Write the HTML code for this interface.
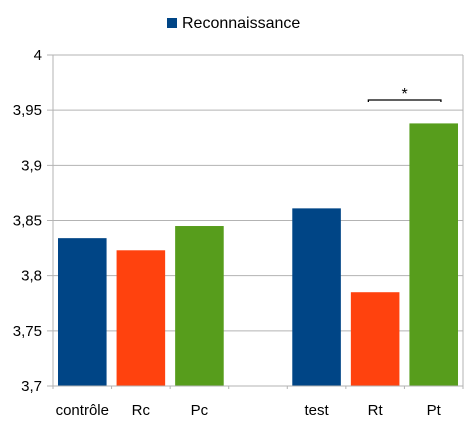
<!DOCTYPE html>
<html><head><meta charset="utf-8"><style>body{margin:0;background:#fff}svg{display:block;font-family:"Liberation Sans",sans-serif}</style></head>
<body>
<svg id="c" width="473" height="425"></svg>
<script>
const categories=["contrôle","Rc","Pc","","test","Rt","Pt"];
const values=[3.834,3.823,3.845,null,3.861,3.785,3.938];
const colors=["#004586","#ff420e","#579d1c",null,"#004586","#ff420e","#579d1c"];
const yTicks=[3.7,3.75,3.8,3.85,3.9,3.95,4];
const yTickLabels=["3,7","3,75","3,8","3,85","3,9","3,95","4"];
const L=53,R=463,T=55,B=386,yMin=3.7,yMax=4;
const svg=document.getElementById('c');const NS='http://www.w3.org/2000/svg';
function y(v){return B-(v-yMin)/(yMax-yMin)*(B-T);}
const slot=(R-L)/categories.length;
function x(i){return L+i*slot;}
function mk(t,a,p){const e=document.createElementNS(NS,t);for(const k in a)e.setAttribute(k,a[k]);(p||svg).appendChild(e);return e;}
yTicks.forEach((v,i)=>{
 const g=mk('line',{x1:L-6,x2:R,y1:y(v),y2:y(v),stroke:'#b3b3b3','stroke-width':1});
 
 
 const t=mk('text',{x:42,y:y(v)+5,'text-anchor':'end','font-size':15,fill:'#000'});
 t.textContent=yTickLabels[i];
 
 
});
const ax=mk('line',{x1:L,x2:L,y1:T,y2:B+3,stroke:'#b3b3b3'});


mk('line',{x1:R,x2:R,y1:T,y2:B+3,stroke:'#b3b3b3'});
for(let i=0;i<=categories.length;i++){
 const tk=mk('line',{x1:x(i),x2:x(i),y1:B,y2:B+3,stroke:'#b3b3b3'});
 
 
}
categories.forEach((c,i)=>{
 if(values[i]!==null){
  const r=mk('rect',{x:x(i)+5,y:y(values[i]),width:slot-10,height:B-y(values[i]),fill:colors[i]});
  
  
 }
 if(c){const t=mk('text',{x:x(i)+slot/2,y:415,'text-anchor':'middle','font-size':15});
 t.textContent=c;
 
 }
});
const xl=mk('line',{x1:L,x2:R,y1:B,y2:B,stroke:'#b3b3b3'});


const br=mk('path',{d:`M${x(5)+22.5} 102 V100 H${x(6)+36.5} V102`,stroke:'#000','stroke-width':1.3,fill:'none'});


const st=mk('text',{x:(x(5)+x(6))/2+29.5,y:99,'text-anchor':'middle','font-size':16});
st.textContent='*';


const lg=mk('g',{});


mk('rect',{x:167,y:18,width:10,height:10,fill:'#004586'},lg);
const lt=mk('text',{x:182,y:28,'font-size':16},lg);lt.textContent='Reconnaissance';
</script>
</body></html>
